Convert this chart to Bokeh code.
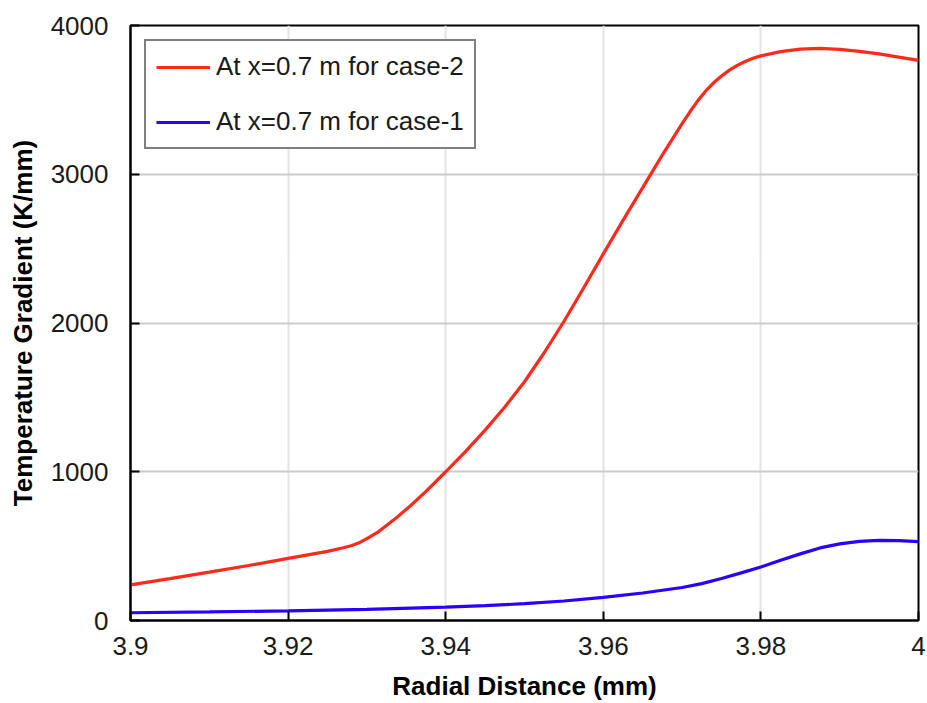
from bokeh.plotting import figure
from bokeh.models import FixedTicker, Range1d, Legend, LegendItem
from bokeh.embed import file_html
from bokeh.resources import INLINE

# ---- data ----
x_case2 = [3.9, 3.905, 3.91, 3.915, 3.92, 3.925, 3.927, 3.928, 3.929, 3.93, 3.9315,
           3.9335, 3.9355, 3.9375, 3.94, 3.9425, 3.945, 3.9475, 3.95, 3.9525, 3.955,
           3.9575, 3.96, 3.9625, 3.965, 3.9675, 3.97, 3.971, 3.972, 3.973, 3.974,
           3.975, 3.976, 3.977, 3.978, 3.979, 3.98, 3.9825, 3.985, 3.9875, 3.99,
           3.9925, 3.995, 3.9975, 4.0]
y_case2 = [240, 282, 325, 370, 418, 465, 489, 503, 522, 550, 598,
           680, 770, 868, 1000, 1135, 1280, 1435, 1605, 1800, 2010,
           2235, 2465, 2690, 2910, 3130, 3340, 3420, 3495, 3560, 3615,
           3660, 3700, 3732, 3758, 3780, 3796, 3824, 3841, 3846, 3839,
           3826, 3809, 3787, 3766]

x_case1 = [3.9, 3.91, 3.92, 3.93, 3.94, 3.945, 3.95, 3.955, 3.96, 3.965, 3.97,
           3.9725, 3.975, 3.9775, 3.98, 3.9825, 3.985, 3.9875, 3.99, 3.9925,
           3.995, 3.9975, 4.0]
y_case1 = [52, 58, 65, 75, 90, 100, 113, 131, 155, 185, 222,
           248, 282, 320, 360, 405, 448, 488, 515, 532,
           539, 537, 530]

x_ticks = [3.9, 3.92, 3.94, 3.96, 3.98, 4.0]
x_tick_labels = ["3.9", "3.92", "3.94", "3.96", "3.98", "4"]
y_ticks = [0, 1000, 2000, 3000, 4000]
y_tick_labels = ["0", "1000", "2000", "3000", "4000"]

label_case2 = "At x=0.7 m for case-2"
label_case1 = "At x=0.7 m for case-1"
x_title = "Radial Distance (mm)"
y_title = "Temperature Gradient (K/mm)"

FONT = "Liberation Sans"

p = figure(width=927, height=703, output_backend="svg", toolbar_location=None,
           x_range=Range1d(3.9, 4.0), y_range=Range1d(0, 4000),
           min_border_left=130, min_border_right=9, min_border_top=25,
           min_border_bottom=83)

p.background_fill_color = "white"
p.border_fill_color = "white"
p.outline_line_color = "black"
p.outline_line_width = 2

r2 = p.line(x_case2, y_case2, line_color="#ff2a1a", line_width=3.2)
r1 = p.line(x_case1, y_case1, line_color="#2a00ff", line_width=3.2)

# axes
for ax in (p.xaxis[0], p.yaxis[0]):
    ax.axis_line_color = "black"
    ax.axis_line_width = 2
    ax.major_tick_line_color = "black"
    ax.major_tick_line_width = 2
    ax.major_tick_in = 9
    ax.major_tick_out = 0
    ax.minor_tick_line_color = None
    ax.major_label_text_font = FONT
    ax.major_label_text_font_size = "26px"
    ax.major_label_text_color = "#1a1a1a"
    ax.axis_label_text_font = FONT
    ax.axis_label_text_font_size = "26px"
    ax.axis_label_text_font_style = "bold"
    ax.axis_label_text_color = "black"

p.xaxis.ticker = FixedTicker(ticks=x_ticks)
p.yaxis.ticker = FixedTicker(ticks=y_ticks)
p.xaxis.major_label_overrides = {t: l for t, l in zip(x_ticks, x_tick_labels)}
p.yaxis.major_label_overrides = {t: l for t, l in zip(y_ticks, y_tick_labels)}
p.xaxis.axis_label = x_title
p.yaxis.axis_label = y_title
p.xaxis.major_label_standoff = 16
p.xaxis.axis_label_standoff = 13
p.yaxis.major_label_standoff = 22
p.yaxis.axis_label_standoff = 10

# grid
p.xgrid.ticker = FixedTicker(ticks=x_ticks)
p.ygrid.ticker = FixedTicker(ticks=y_ticks)
p.xgrid.grid_line_color = "#e4e4e4"
p.xgrid.grid_line_width = 2
p.ygrid.grid_line_color = "#cccccc"
p.ygrid.grid_line_width = 2

# legend
legend = Legend(items=[LegendItem(label=label_case2, renderers=[r2]),
                       LegendItem(label=label_case1, renderers=[r1])],
                location="top_left", margin=14, padding=10, spacing=24,
                glyph_width=54, label_standoff=6, label_height=30, glyph_height=30)
legend.label_text_font = FONT
legend.label_text_font_size = "26px"
legend.label_text_color = "#1a1a1a"
legend.border_line_color = "black"
legend.border_line_width = 2
legend.background_fill_alpha = 1.0
p.add_layout(legend)

open("out.html", "w").write(file_html(p, INLINE))
